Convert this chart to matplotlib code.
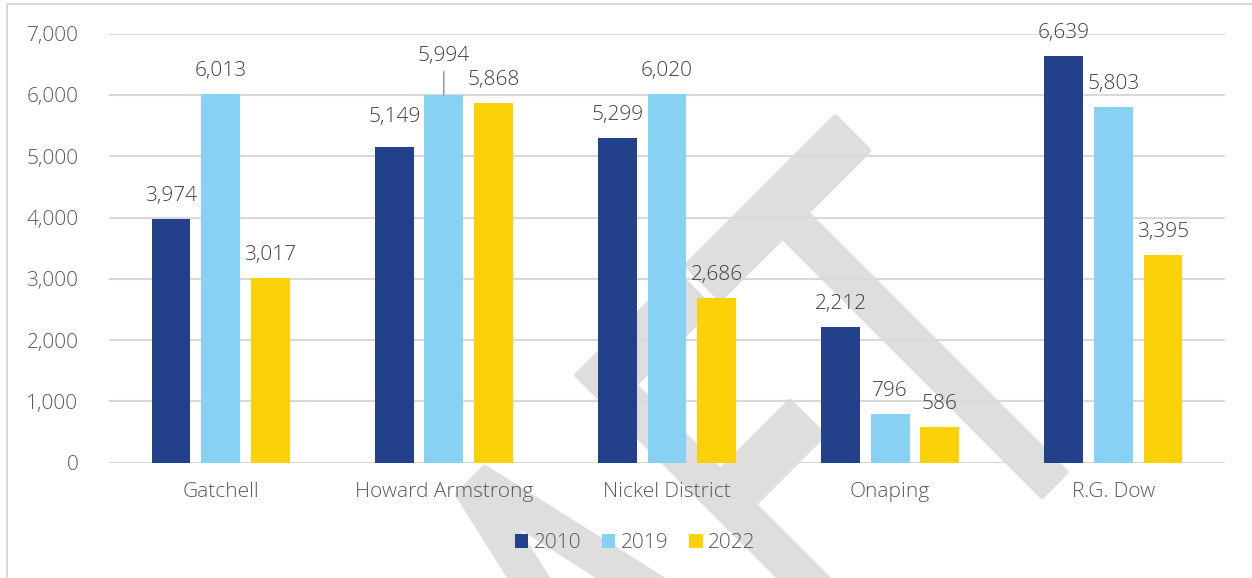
import matplotlib
matplotlib.use("Agg")
import matplotlib.pyplot as plt
from matplotlib.patches import Rectangle, PathPatch
from matplotlib.textpath import TextPath
from matplotlib.font_manager import FontProperties
from matplotlib.transforms import Affine2D, IdentityTransform
import matplotlib.patheffects as pe
import numpy as np

plt.rcParams['font.family'] = ['Open Sans', 'DejaVu Sans']
plt.rcParams['font.weight'] = 300

schools = ["Gatchell", "Howard Armstrong", "Nickel District", "Onaping", "R.G. Dow"]
years = ["2010", "2019", "2022"]
counts_2010 = [3974, 5149, 5299, 2212, 6639]
counts_2019 = [6013, 5994, 6020, 796, 5803]
counts_2022 = [3017, 5868, 2686, 586, 3395]
y_ticks = [0, 1000, 2000, 3000, 4000, 5000, 6000, 7000]

colors = ["#23418b", "#86d1f4", "#fad207"]
series = [counts_2010, counts_2019, counts_2022]

W, H = 1252, 578
fig = plt.figure(figsize=(W / 100, H / 100), dpi=100)

# condensed, diagonal DRAFT watermark behind the chart (pixel units)
wm = TextPath((0, 0), "DRAFT", size=1,
              prop=FontProperties(family="DejaVu Sans", weight="normal"))
wm_x1 = wm.vertices[:, 0].max()
wm_tf = (Affine2D().translate(-wm_x1, 0).scale(340, 568)
         .rotate_deg(45).translate(1128, H - 410))
wm_patch = PathPatch(wm_tf.transform_path(wm), facecolor="#dedede",
                     edgecolor="none", transform=IdentityTransform(), zorder=0.5)
wm_patch.set_path_effects([pe.Stroke(linewidth=4, foreground="#dedede",
                                     joinstyle="round", capstyle="round"),
                           pe.Normal()])
fig.add_artist(wm_patch)

# light frame around the chart
fig.patches.append(Rectangle((7 / W, -0.2), 2, 1.2 - 4 / H, fill=False,
                             edgecolor="#d9d9d9", lw=1.5,
                             transform=fig.transFigure, zorder=2))

ax = fig.add_axes([109 / W, (H - 462.7) / H, 1116 / W, 429 / H])
ax.set_zorder(1)
ax.patch.set_alpha(0)

x = np.arange(len(schools))
bar_w = 0.174
step = 0.222

# extra lift (points) for labels nudged clear of neighbours
extra = {(1, 0): 5, (1, 1): 12}

for k, (vals, col) in enumerate(zip(series, colors)):
    pos = x + (k - 1) * step
    ax.bar(pos, vals, width=bar_w, color=col, zorder=3, label=years[k])
    for i, v in enumerate(vals):
        lift = 13 + extra.get((i, k), 0)
        ax.annotate(f"{v:,}", (pos[i], v), xytext=(0, lift),
                    textcoords="offset points", ha="center", va="baseline",
                    fontsize=15, color="#404040", zorder=4)

# leader line for the lifted 2019 Howard Armstrong label
i, k = 1, 1
lx = x[i] + (k - 1) * step
v = counts_2019[i]
ax.annotate("", xy=(lx, v), xytext=(0, 17), textcoords="offset points",
            arrowprops=dict(arrowstyle="-", color="#8c8c8c", lw=1,
                            shrinkA=0, shrinkB=0))

ax.set_xlim(-0.5, len(schools) - 0.5)
ax.set_ylim(0, 7000)
ax.set_yticks(y_ticks)
ax.set_yticklabels([f"{t:,}" for t in y_ticks])
ax.set_xticks(x)
ax.set_xticklabels(schools)
ax.tick_params(axis="both", length=0, labelsize=15, labelcolor="#595959")
ax.tick_params(axis="y", pad=22)
ax.tick_params(axis="x", pad=14)
ax.grid(axis="y", color="#d9d9d9", lw=1.5, zorder=1)
ax.set_axisbelow(True)
for s in ax.spines.values():
    s.set_visible(False)

fig.legend(loc="center", bbox_to_anchor=(635 / W, 1 - 543 / H),
           ncol=3, frameon=False, fontsize=15,
           handlelength=0.65, handleheight=0.65, handletextpad=0.25,
           columnspacing=1.0, labelcolor="#595959")

fig.savefig("out.png", dpi=100)
